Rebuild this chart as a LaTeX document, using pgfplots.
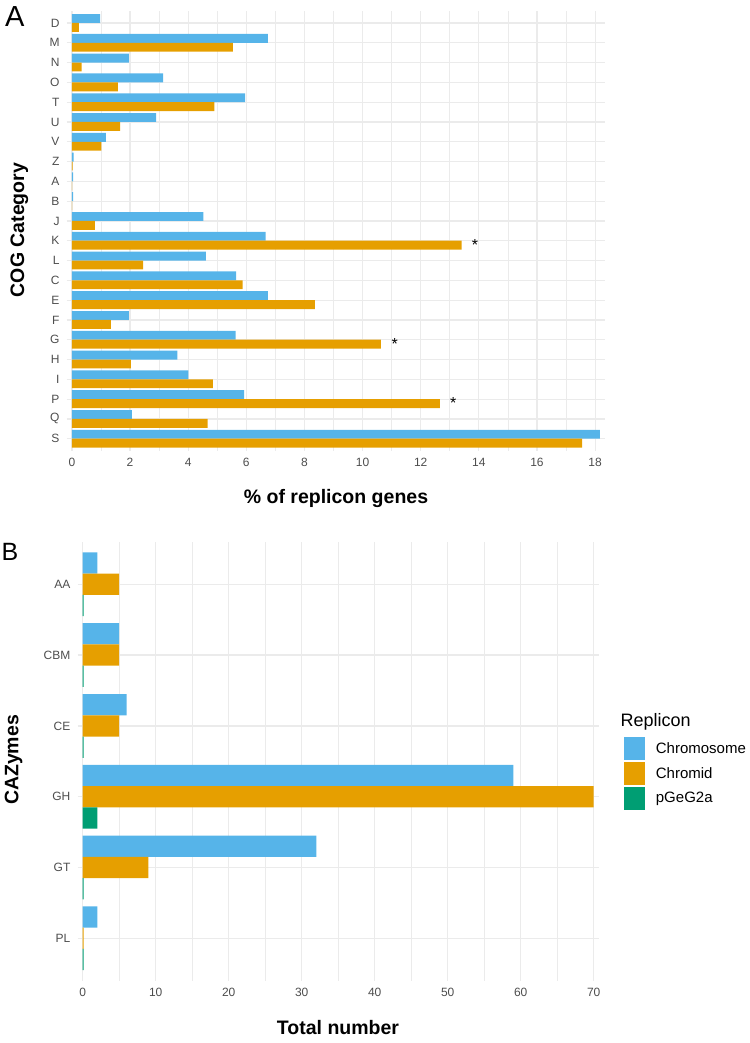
\documentclass[border=0pt]{standalone}
\usepackage{pgfplots}
\pgfplotsset{compat=1.18}
\usepackage{fontspec}
\setmainfont{Liberation Sans}
\definecolor{cblue}{HTML}{56B4E9}
\definecolor{corange}{HTML}{E69F00}
\definecolor{cgreen}{HTML}{009E73}
\definecolor{gridc}{HTML}{EBEBEB}
\definecolor{tickc}{HTML}{4D4D4D}
\pgfplotsset{
  ggstyle/.style={
    scale only axis, xbar, grid=both,
    major grid style={color=gridc, line width=1.2bp},
    minor grid style={color=gridc, line width=0.6bp},
    axis line style={draw=none},
    major tick length=0pt, minor tick length=0pt,
    tick style={draw=none},
    /pgf/number format/assume math mode=true,
    ticklabel style={font=\fontsize{12bp}{14bp}\selectfont, text=tickc},
    yticklabel style={anchor=east, inner sep=0pt, xshift=-7bp},
    xticklabel style={anchor=north, inner sep=0pt, yshift=-7.5bp},
  },
  legkey/.style={legend image code/.code={\fill[##1] (0bp,-11.5bp) rectangle (21.7bp,11.5bp);}},
}
\newcommand{\axtitle}{\bfseries\fontsize{19.5bp}{22bp}\selectfont}
\begin{document}
\begin{tikzpicture}
\useasboundingbox (0bp,0bp) rectangle (750bp,1043bp);
% ---------------- Panel A ----------------
\begin{axis}[ggstyle, at={(66.7bp,592.4bp)}, anchor=south west,
  width=538.3bp, height=439.5bp,
  xmin=-0.18, xmax=18.34, ymin=0.4, ymax=22.6, y dir=reverse,
  xtick={0,2,...,18}, minor xtick={1,3,...,17},
  ytick={1,...,22},
  yticklabels={D,M,N,O,T,U,V,Z,A,B,J,K,L,C,E,F,G,H,I,P,Q,S},
  bar width=0.45]
\addplot[fill=cblue, draw=none, bar shift=-0.225] coordinates {
(0.97,1) (6.74,2) (1.96,3) (3.14,4) (5.96,5) (2.90,6) (1.17,7) (0.06,8)
(0.04,9) (0.04,10) (4.52,11) (6.66,12) (4.61,13) (5.65,14) (6.74,15)
(1.96,16) (5.63,17) (3.63,18) (4.01,19) (5.92,20) (2.06,21) (18.16,22)};
\addplot[fill=corange, draw=none, bar shift=0.225] coordinates {
(0.24,1) (5.54,2) (0.33,3) (1.58,4) (4.90,5) (1.66,6) (1.01,7) (0.02,8)
(0.01,9) (0.01,10) (0.79,11) (13.41,12) (2.45,13) (5.87,14) (8.36,15)
(1.34,16) (10.63,17) (2.03,18) (4.85,19) (12.66,20) (4.67,21) (17.55,22)};
\node[font=\fontsize{16bp}{18bp}\selectfont, inner sep=0pt] at (axis cs:13.87,12.2) {*};
\node[font=\fontsize{16bp}{18bp}\selectfont, inner sep=0pt] at (axis cs:11.11,17.2) {*};
\node[font=\fontsize{16bp}{18bp}\selectfont, inner sep=0pt] at (axis cs:13.12,20.2) {*};
\end{axis}
% ---------------- Panel B ----------------
\begin{axis}[ggstyle, at={(77.6bp,62.2bp)}, anchor=south west,
  width=521.2bp, height=439bp,
  xmin=-0.7, xmax=70.7, ymin=0.4, ymax=6.6, y dir=reverse,
  xtick={0,10,...,70}, minor xtick={5,15,...,65},
  ytick={1,...,6}, yticklabels={AA,CBM,CE,GH,GT,PL},
  bar width=0.3,
  legend style={at={(axis description cs:1.047,0.556)}, anchor=north west,
    draw=none, fill=none, inner sep=0pt, row sep=2bp,
    font=\fontsize{15bp}{18bp}\selectfont, cells={anchor=west},
    nodes={inner sep=0pt},
    /tikz/every odd column/.append style={column sep=10.7bp}},
  ]
\addplot[fill=cblue, draw=none, bar shift=-0.3, legkey] coordinates {
(2,1) (5,2) (6,3) (59,4) (32,5) (2,6)};
\addlegendentry{Chromosome}
\addplot[fill=corange, draw=none, bar shift=0, legkey] coordinates {
(5,1) (5,2) (5,3) (70,4) (9,5) (0.12,6)};
\addlegendentry{Chromid}
\addplot[fill=cgreen, draw=none, bar shift=0.3, legkey] coordinates {
(0.12,1) (0.12,2) (0.12,3) (2,4) (0.12,5) (0.12,6)};
\addlegendentry{pGeG2a}
\end{axis}
% ---------------- Titles ----------------
\node[anchor=base, inner sep=0pt, font=\axtitle] at (336bp,539bp) {\% of replicon genes};
\node[anchor=base, inner sep=0pt, font=\axtitle] at (338bp,9bp) {Total number};
\node[anchor=base, rotate=90, inner sep=0pt, font=\axtitle] at (24bp,813bp) {COG Category};
\node[anchor=base, rotate=90, inner sep=0pt, font=\axtitle] at (18.3bp,283bp) {CAZymes};
\node[anchor=base west, inner sep=0pt, font=\fontsize{18bp}{21bp}\selectfont] at (620.5bp,316.3bp) {Replicon};
\node[anchor=base west, inner sep=0pt, font=\fontsize{29bp}{30bp}\selectfont] at (5bp,1016.3bp) {A};
\node[anchor=base west, inner sep=0pt, font=\fontsize{25bp}{27bp}\selectfont] at (1.5bp,482.3bp) {B};
\end{tikzpicture}
\end{document}
